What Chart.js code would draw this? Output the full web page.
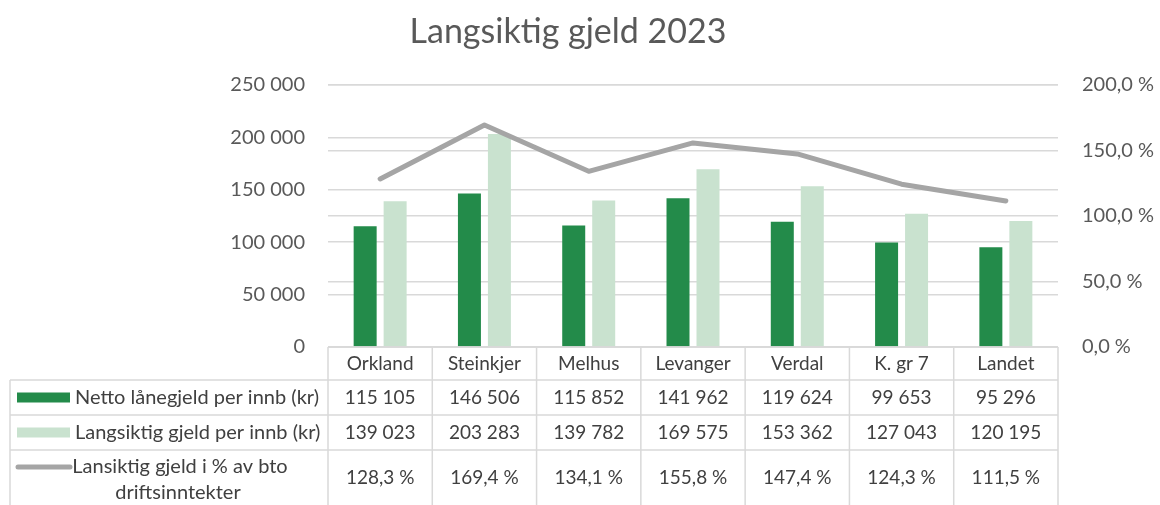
<!DOCTYPE html>
<html>
<head>
<meta charset="utf-8">
<script src="https://cdn.jsdelivr.net/npm/chart.js"></script>
<style>body{margin:0;background:#fff}</style>
</head>
<body>
<canvas id="gjeld" width="1160" height="505"></canvas>
<script>
// data lest av figuren
const kommuner = ['Orkland', 'Steinkjer', 'Melhus', 'Levanger', 'Verdal', 'K. gr 7', 'Landet'];
const nettoLanegjeld = [115105, 146506, 115852, 141962, 119624, 99653, 95296];
const langsiktigGjeld = [139023, 203283, 139782, 169575, 153362, 127043, 120195];
const gjeldProsent = [128.3, 169.4, 134.1, 155.8, 147.4, 124.3, 111.5];
const serieNavn = ['Netto lånegjeld per innb (kr)', 'Langsiktig gjeld per innb (kr)', 'Lansiktig gjeld i % av bto', 'driftsinntekter'];
const tittel = 'Langsiktig gjeld 2023';

const FONT = 'Lato';
const tall = v => String(v).replace(/\B(?=(\d{3})+(?!\d))/g, ' ');
const prosent = v => v.toFixed(1).replace('.', ',') + ' %';

/* tittel og datatabell under grafen */
const tabell = {
  id: 'tabell',
  afterDraw(chart) {
    const ctx = chart.ctx;
    const a = chart.chartArea;
    const x = chart.scales.x;
    const kol = (a.right - a.left) / kommuner.length;
    const y0 = a.bottom, y1 = y0 + 33, y2 = y1 + 35, y3 = y2 + 35, y4 = 505;
    const venstre = 10;

    ctx.save();
    ctx.fillStyle = '#595959';
    ctx.font = '34px ' + FONT;
    ctx.textAlign = 'center';
    ctx.textBaseline = 'middle';
    ctx.fillText(tittel, 568, 32);

    // linjer
    ctx.strokeStyle = '#d9d9d9';
    ctx.lineWidth = 1.5;
    ctx.beginPath();
    ctx.moveTo(a.left, y0); ctx.lineTo(a.right, y0);
    [y1, y2, y3].forEach(y => { ctx.moveTo(venstre, y); ctx.lineTo(a.right, y); });
    for (let i = 0; i <= kommuner.length; i++) {
      const xx = a.left + i * kol;
      ctx.moveTo(xx, y0); ctx.lineTo(xx, y4);
    }
    ctx.moveTo(venstre, y1); ctx.lineTo(venstre, y4);
    ctx.stroke();

    // tekst i cellene
    ctx.fillStyle = '#404040';
    ctx.font = '19px ' + FONT;
    kommuner.forEach((k, i) => {
      const cx = x.getPixelForValue(i);
      ctx.fillText(k, cx, (y0 + y1) / 2);
      ctx.fillText(tall(nettoLanegjeld[i]), cx, (y1 + y2) / 2);
      ctx.fillText(tall(langsiktigGjeld[i]), cx, (y2 + y3) / 2);
      ctx.fillText(prosent(gjeldProsent[i]), cx, (y3 + y4) / 2);
    });

    // forklaringer
    ctx.fillStyle = '#238B4A';
    ctx.fillRect(17, (y1 + y2) / 2 - 5, 53, 10);
    ctx.fillStyle = '#C9E2CF';
    ctx.fillRect(17, (y2 + y3) / 2 - 5, 53, 10);
    ctx.strokeStyle = '#A5A5A5';
    ctx.lineWidth = 5;
    ctx.lineCap = 'round';
    ctx.beginPath();
    ctx.moveTo(18, y3 + 17); ctx.lineTo(70, y3 + 17);
    ctx.stroke();

    ctx.fillStyle = '#404040';
    ctx.font = '20px ' + FONT;
    ctx.textAlign = 'left';
    ctx.fillText(serieNavn[0], 75, (y1 + y2) / 2);
    ctx.fillText(serieNavn[1], 75, (y2 + y3) / 2);
    ctx.textAlign = 'center';
    ctx.fillText(serieNavn[2], 180, y3 + 17);
    ctx.fillText(serieNavn[3], 178, y3 + 43);
    ctx.restore();
  }
};

const tickStil = { color: '#595959', font: { family: FONT, size: 20 } };
const gridStil = { color: '#d9d9d9', lineWidth: 1.5, drawTicks: false };

function tegn() {
  new Chart(document.getElementById('gjeld'), {
    data: {
      labels: kommuner,
      datasets: [
        { type: 'line', label: serieNavn[2] + ' ' + serieNavn[3], data: gjeldProsent, yAxisID: 'y2',
          borderColor: '#A5A5A5', borderWidth: 5, pointRadius: 0, borderCapStyle: 'round', borderJoinStyle: 'round', order: 0 },
        { type: 'bar', label: serieNavn[0], data: nettoLanegjeld, yAxisID: 'y', backgroundColor: '#238B4A', order: 1 },
        { type: 'bar', label: serieNavn[1], data: langsiktigGjeld, yAxisID: 'y', backgroundColor: '#C9E2CF', order: 1 }
      ]
    },
    options: {
      responsive: false,
      animation: false,
      layout: { padding: { top: 85, bottom: 158 } },
      datasets: { bar: { categoryPercentage: 0.575, barPercentage: 0.767 } },
      plugins: { legend: { display: false }, tooltip: { enabled: false }, title: { display: false } },
      scales: {
        x: { display: false, offset: true },
        y: {
          position: 'left', min: 0, max: 250000,
          ticks: Object.assign({ stepSize: 50000, padding: 23, callback: v => tall(v) }, tickStil),
          grid: gridStil, border: { display: false },
          afterFit(s) { s.width = 328; }
        },
        y2: {
          position: 'right', min: 0, max: 200,
          ticks: Object.assign({ stepSize: 50, padding: 24, callback: v => prosent(v) }, tickStil),
          grid: gridStil, border: { display: false },
          afterFit(s) { s.width = 102; }
        }
      }
    },
    plugins: [tabell]
  });
}

document.fonts.load('20px ' + FONT).then(tegn, tegn);
</script>
</body>
</html>
